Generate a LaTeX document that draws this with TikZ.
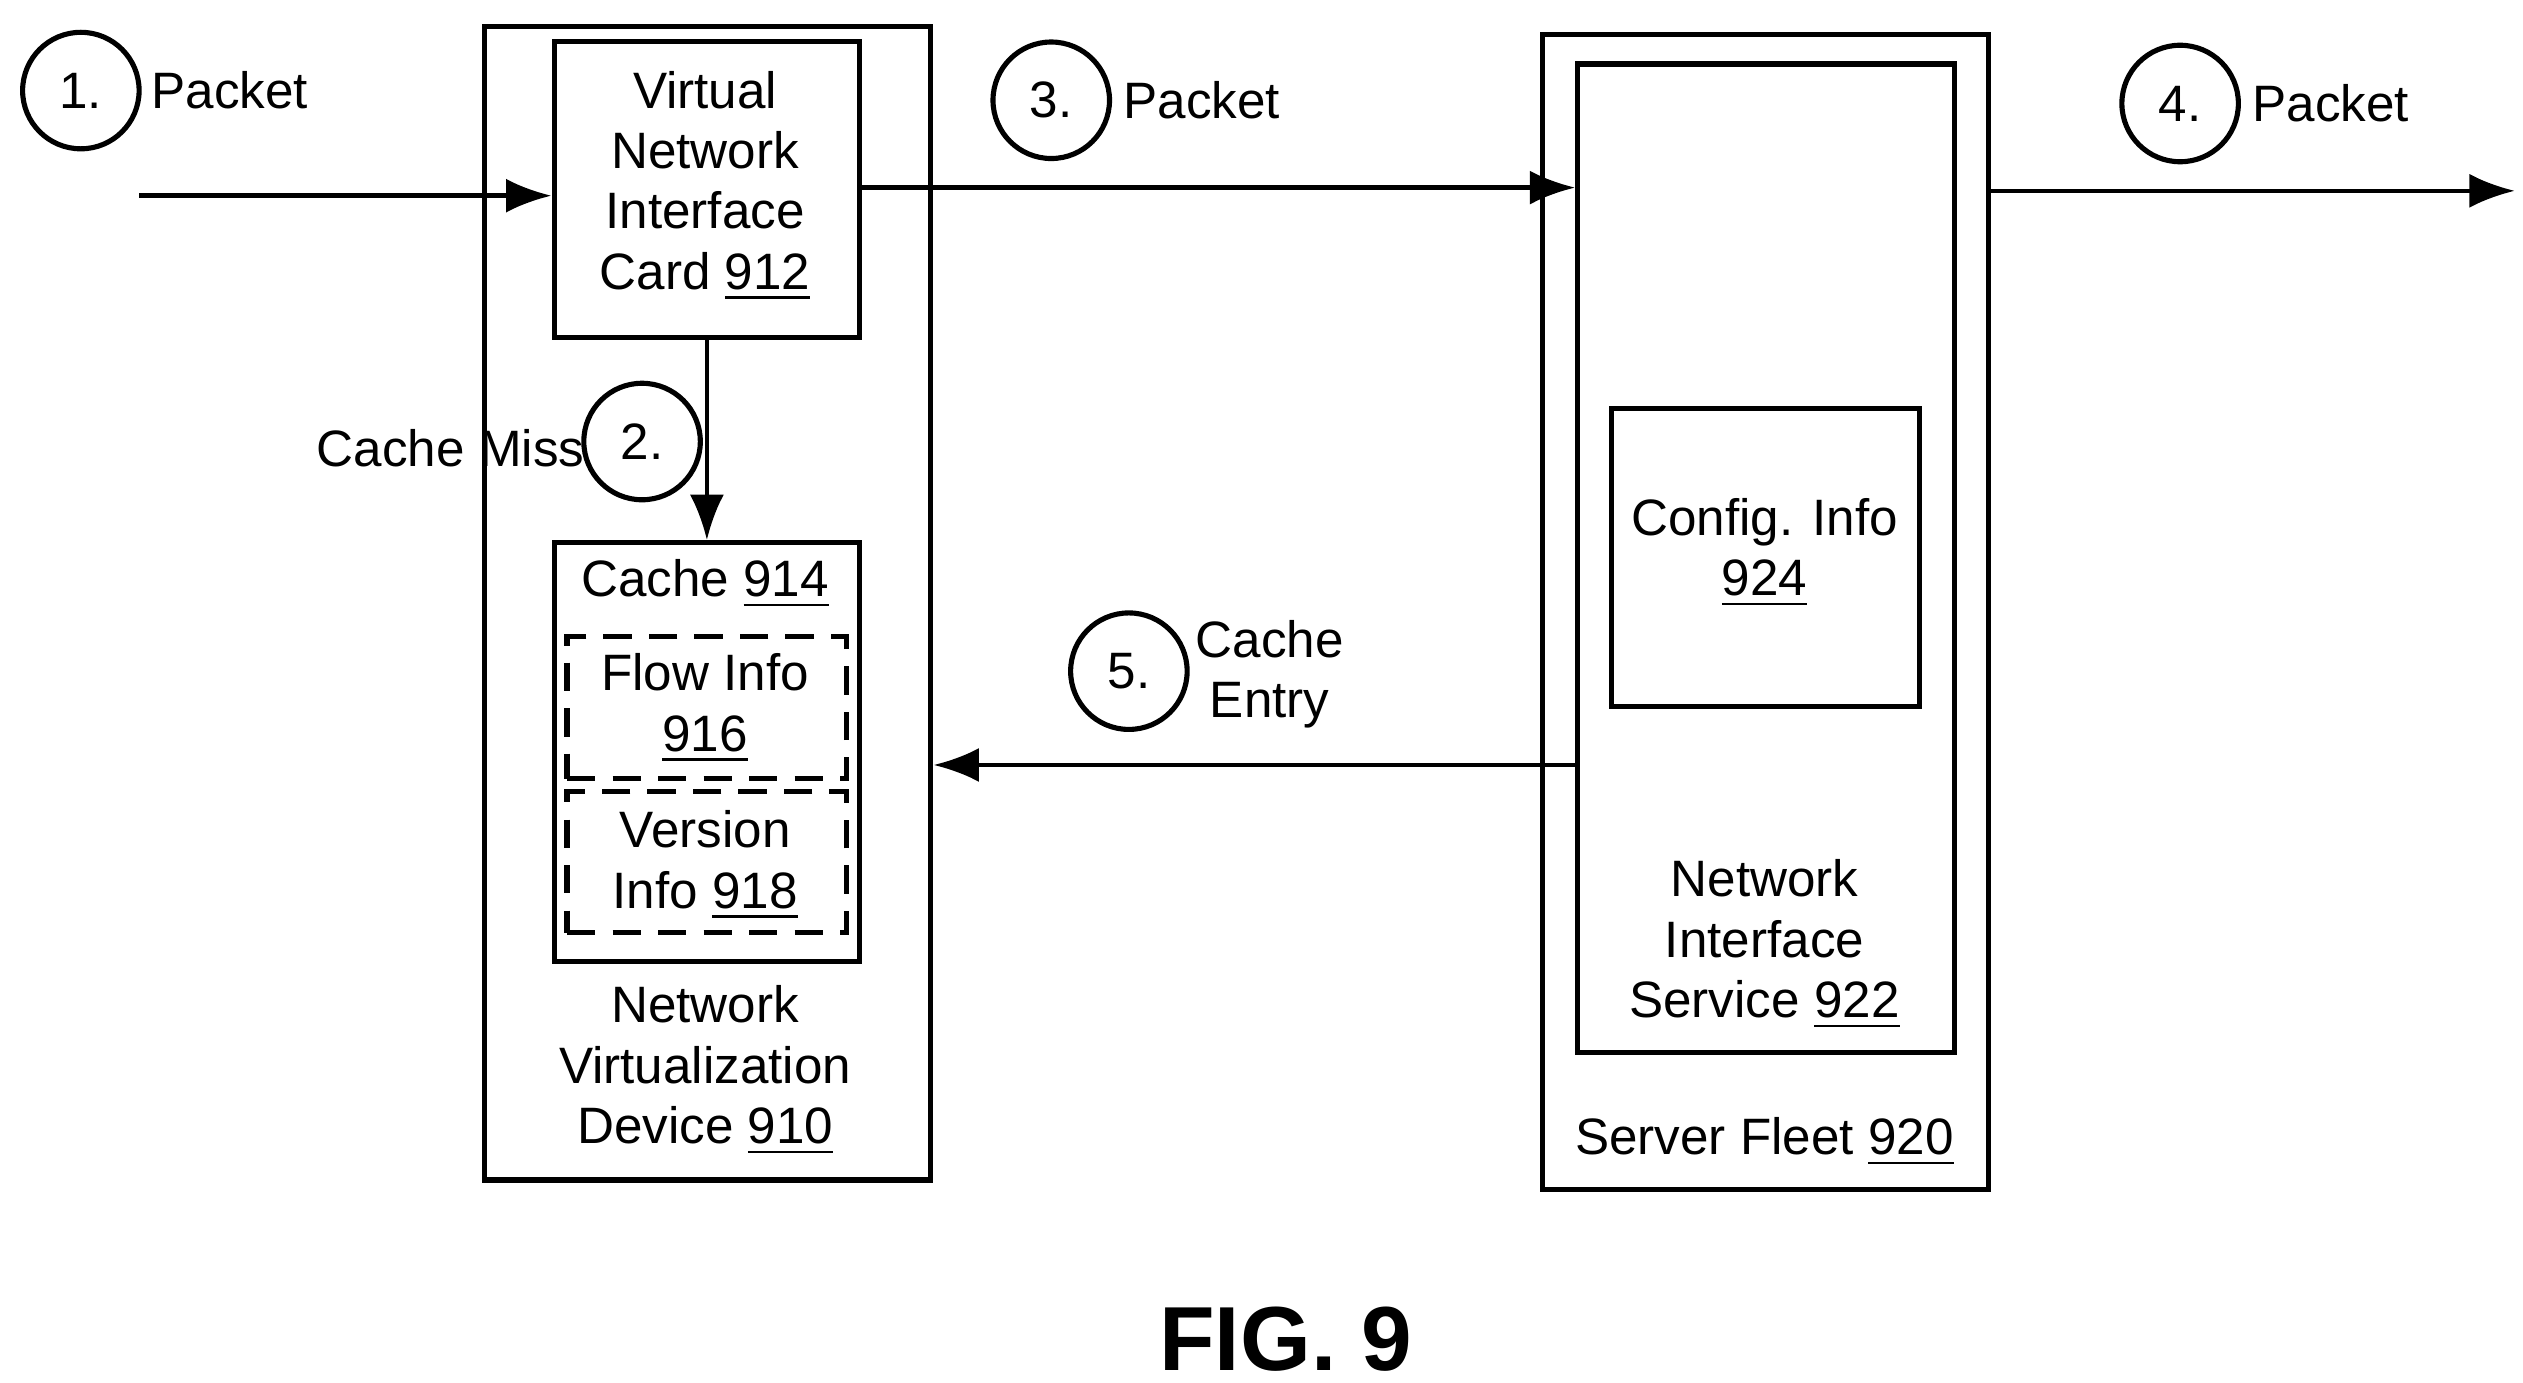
\documentclass[tikz,border=0pt]{standalone}
\usepackage{fontspec}
\setmainfont{Liberation Sans}
\begin{document}
\begin{tikzpicture}[x=0.01cm,y=-0.01cm,
  box/.style={draw,line width=0.9pt},
  dbox/.style={draw,line width=0.9pt,dash pattern=on 5pt off 3pt},
  circ/.style={draw,circle,line width=0.9pt,minimum size=0.72cm,inner sep=0pt},
  arr/.style={line width=0.8pt,-{Latex[length=8pt,width=6pt]}},
  txt/.style={font=\fontsize{9}{10.6}\selectfont,align=center,inner sep=0pt}]
\usetikzlibrary{arrows.meta}
\useasboundingbox (0,0) rectangle (1560,855);
\node[box,minimum width=276*0.01cm,minimum height=713*0.01cm,anchor=north west] (nvd) at (298,15) {};
\node[box,minimum width=189*0.01cm,minimum height=183*0.01cm,anchor=north west] (vnic) at (341,24) {};
\node[box,minimum width=189*0.01cm,minimum height=259*0.01cm,anchor=north west] (cache) at (341,334) {};
\node[dbox,minimum width=173*0.01cm,minimum height=88*0.01cm,anchor=north west] (flow) at (349,392) {};
\node[dbox,minimum width=173*0.01cm,minimum height=87*0.01cm,anchor=north west] (ver) at (349,488) {};
\node[box,minimum width=276*0.01cm,minimum height=714*0.01cm,anchor=north west] (sf) at (952,20) {};
\node[box,minimum width=233*0.01cm,minimum height=611*0.01cm,anchor=north west] (nis) at (974,38) {};
\node[box,minimum width=190*0.01cm,minimum height=184*0.01cm,anchor=north west] (cfg) at (995,251) {};
\node[txt] (t1) at (436,115) {Virtual\\Network\\Interface\\Card \underline{912}};
\node[txt] (t2) at (436,361) {Cache \underline{914}};
\node[txt] (t3) at (436,438) {Flow Info\\\underline{916}};
\node[txt] (t4) at (436,535) {Version\\Info \underline{918}};
\node[txt] (t5) at (436,662) {Network\\Virtualization\\Device \underline{910}};
\node[txt] (t6) at (1091,342) {Config. Info\\\underline{924}};
\node[txt] (t7) at (1091,584) {Network\\Interface\\Service \underline{922}};
\node[txt] (t8) at (1091,706) {Server Fleet \underline{920}};
\node[circ] (c1) at (50,56) {}; \node[txt] at (50,56) {1.};
\node[circ] (c2) at (397,273) {}; \node[txt] at (397,273) {2.};
\node[circ] (c3) at (650,62) {}; \node[txt] at (650,62) {3.};
\node[circ] (c4) at (1348,64) {}; \node[txt] at (1348,64) {4.};
\node[circ] (c5) at (698,415) {}; \node[txt] at (698,415) {5.};
\node[txt,anchor=west] (p1) at (93,56) {Packet};
\node[txt,anchor=west] (p3) at (694,62) {Packet};
\node[txt,anchor=west] (p4) at (1392,64) {Packet};
\node[txt,anchor=east] (cm) at (362,277) {Cache Miss};
\node[txt] (ce) at (785,417) {Cache\\Entry};
\node[font=\bfseries\fontsize{16}{19}\selectfont] (fig) at (795,828) {FIG. 9};
\coordinate (in) at (86,121);
\coordinate (out) at (1555,118);
\draw[arr] (in) -- (in -| vnic.west);
\draw[arr] (vnic.east |- 0,116) -- (nis.west |- 0,116);
\draw[arr] (sf.east |- 0,118) -- (out);
\draw[arr] (vnic.south) -- (cache.north);
\draw[arr] (nis.west |- 0,473) -- (nvd.east |- 0,473);
\end{tikzpicture}
\end{document}
